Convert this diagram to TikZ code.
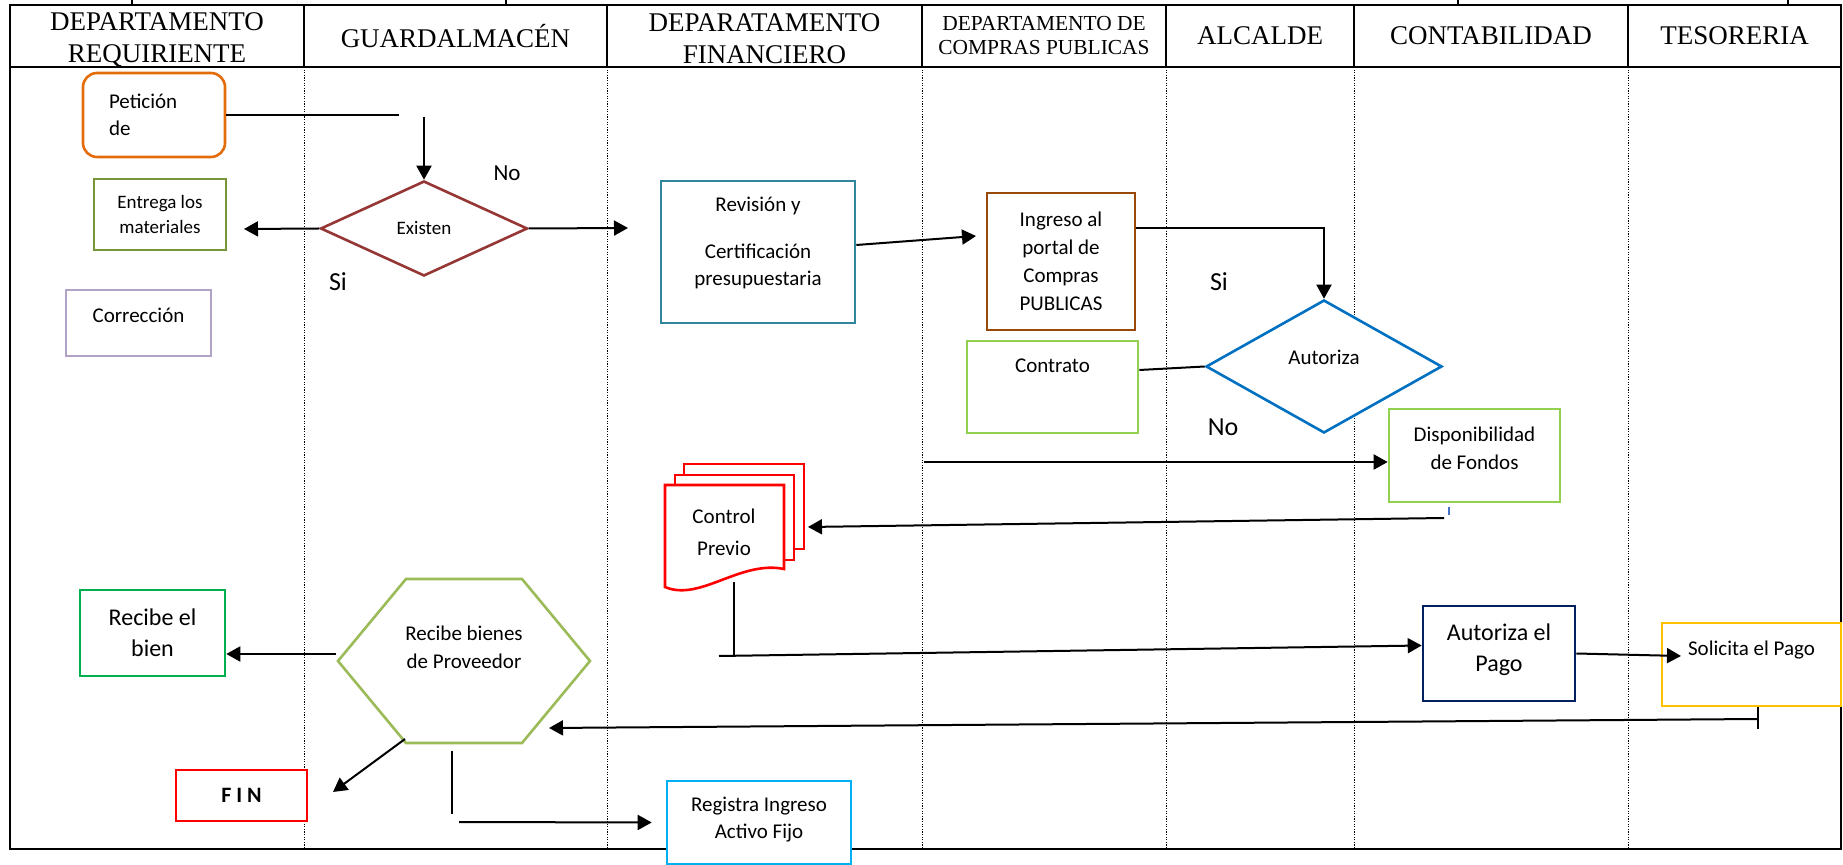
\documentclass[tikz,border=0pt]{standalone}
\usepackage{fontspec}
\setmainfont{Carlito}
\newfontfamily\headfont{Liberation Serif}
\usetikzlibrary{positioning, arrows.meta, shapes.geometric}

\definecolor{petorange}{HTML}{E46C0A}
\definecolor{exred}{HTML}{953735}
\definecolor{olive}{HTML}{77933C}
\definecolor{lilac}{HTML}{B3A2C7}
\definecolor{teal}{HTML}{31859C}
\definecolor{brown}{HTML}{984807}
\definecolor{lime}{HTML}{92D050}
\definecolor{azul}{HTML}{0070C0}
\definecolor{navy}{HTML}{002060}
\definecolor{amber}{HTML}{FFC000}
\definecolor{leaf}{HTML}{9BBB59}
\definecolor{grass}{HTML}{00B050}
\definecolor{pure}{HTML}{FF0000}
\definecolor{sky}{HTML}{00B0F0}
\definecolor{tick}{HTML}{4472C4}

\begin{document}
\begin{tikzpicture}[
        x=0.5pt, y=-0.5pt,
        lane/.style={line width=1.2pt},
        lanesep/.style={line width=0.5pt, dash pattern=on 0.6pt off 0.7pt},
        head/.style={font=\headfont\fontsize{13.5}{16}\selectfont, align=center, inner sep=0pt},
        box/.style={rectangle, draw=#1, line width=1.3pt, fill=white, align=center, inner sep=0pt, font=\fontsize{10.5}{14}\selectfont},
        dec/.style={diamond, draw=#1, line width=1.3pt, fill=white, inner sep=0pt, aspect=2, font=\fontsize{10.5}{14}\selectfont},
        lbl/.style={inner sep=0pt, font=\fontsize{13}{15}\selectfont},
        lin/.style={line width=1pt},
        arr/.style={-{Triangle[length=7pt, width=7.5pt]}, line width=1pt},
    ]
        \useasboundingbox (0,0) rectangle (1843,865);

        % Lanes
        \draw[lane] (10,5) rectangle (1841,849);
        \draw[lane] (10,67) -- (1841,67);
        \foreach \x in {304,607,922,1166,1354,1628} {
            \draw[lane] (\x,5) -- (\x,67);
            \draw[lanesep] (\x,67) -- (\x,849);
        }
        \foreach \x in {132,506,1458,1788}
            \draw[lane] (\x,0) -- (\x,5);

        \node[head] (hreq) at (157,39.5) {DEPARTAMENTO\\REQUIRIENTE};
        \node[head] (hguard) at (455.5,36) {GUARDALMAC\'EN};
        \node[head] (hfin) at (764.5,38.5) {DEPARATAMENTO\\FINANCIERO};
        \node[head, font=\headfont\fontsize{10.7}{12}\selectfont] (hcomp) at (1044,36) {DEPARTAMENTO DE\\COMPRAS PUBLICAS};
        \node[head] (halc) at (1260,36) {ALCALDE};
        \node[head] (hcont) at (1491,36) {CONTABILIDAD};
        \node[head] (htes) at (1734.5,36) {TESORERIA};

        % Steps
        \node[box=petorange, rounded corners=7pt, align=left, text width=45pt, inner xsep=13pt, minimum height=42pt, font=\fontsize{10.5}{13.5}\selectfont] (peticion) at (154,115) {Petici\'on\\de};
        \node[box=olive, minimum width=66pt, minimum height=35.5pt, font=\fontsize{9.5}{12.5}\selectfont] (entrega) at (160,214.5) {Entrega los\\materiales};
        \node[box=lilac, minimum width=72.5pt, minimum height=33pt, text depth=8pt] (correccion) at (138.5,323) {Correcci\'on};
        \node[dec=exred, minimum width=103.5pt, minimum height=47.5pt, font=\fontsize{9.5}{12}\selectfont] (existen) at (424,228.5) {Existen};
        \node[box=teal, minimum width=97pt, minimum height=71pt, text depth=11pt, font=\fontsize{10.5}{13.5}\selectfont] (revision) at (758,252) {Revisi\'on y\\[10pt]Certificaci\'on\\presupuestaria};
        \node[box=brown, minimum width=74pt, minimum height=68.5pt] (ingreso) at (1061,261.5) {Ingreso al\\portal de\\Compras\\PUBLICAS};
        \node[dec=azul, minimum width=118pt, minimum height=66.5pt, text depth=9pt] (autoriza) at (1324,366.5) {Autoriza};
        \node[box=lime, minimum width=85.5pt, minimum height=46pt, text depth=21pt] (contrato) at (1052.5,387) {Contrato};
        \node[box=lime, minimum width=85.5pt, minimum height=46.5pt, text depth=7.5pt] (fondos) at (1474.5,455.5) {Disponibilidad\\de Fondos};
        \node[box=navy, minimum width=76pt, minimum height=47.5pt, text depth=6pt, font=\fontsize{12}{15.5}\selectfont] (pago) at (1499,653.5) {Autoriza el\\Pago};
        \node[box=amber, minimum width=89.5pt, minimum height=41.5pt, text depth=16.5pt] (solicita) at (1751.5,664.5) {Solicita el Pago};
        \node[box=grass, minimum width=72.5pt, minimum height=43pt, font=\fontsize{12}{15.5}\selectfont] (recibe) at (152.5,633) {Recibe el\\bien};
        \node[box=pure, minimum width=65.5pt, minimum height=25.5pt, font=\bfseries\fontsize{11}{13}\selectfont] (fin) at (241.5,795.5) {F I N};
        \node[box=sky, minimum width=92pt, minimum height=41.5pt, text depth=5pt, font=\fontsize{10.5}{13.5}\selectfont] (registra) at (759,822.5) {Registra Ingreso\\Activo Fijo};

        % Control previo (documents)
        \draw[pure, line width=1.3pt, fill=white] (684,464) rectangle (804,549);
        \draw[pure, line width=1.3pt, fill=white] (675,475) rectangle (794,560);
        \draw[pure, line width=1.3pt, fill=white] (665,485) -- (784,485) -- (784,569) .. controls (740,560) and (700,602) .. (665,587) -- cycle;
        \node[align=center, inner sep=0pt, font=\fontsize{10.5}{16}\selectfont] (control) at (724,532) {Control\\Previo};

        % Recibe bienes (hexagon)
        \draw[leaf, line width=1.3pt, fill=white] (338,661) -- (406,579) -- (522,579) -- (590,661) -- (522,743) -- (406,743) -- cycle;
        \node[align=center, inner sep=0pt, text depth=14pt, font=\fontsize{10.5}{14}\selectfont] (bienes) at (464,661) {Recibe bienes\\de Proveedor};

        % Labels
        \node[lbl, font=\fontsize{11.5}{14}\selectfont] (no1) at (507,173) {No};
        \node[lbl] (si1) at (338,282) {Si};
        \node[lbl] (si2) at (1219,282) {Si};
        \node[lbl] (no2) at (1223,427) {No};

        % Free ends
        \coordinate (pet1) at (399,115);
        \coordinate (pet2) at (424,117);
        \coordinate (ex1) at (244,229);
        \coordinate (ex2) at (628,228);
        \coordinate (rev1) at (976,236);
        \coordinate (fon1) at (924,462);
        \coordinate (fon2) at (1444,518);
        \coordinate (cp1) at (808,527);
        \coordinate (cp2) at (734,582);
        \coordinate (cp3) at (734,655);
        \coordinate (cp4) at (719,656);
        \coordinate (pag1) at (1681,656);
        \coordinate (sol1) at (1758,729);
        \coordinate (sol2) at (1758,719);
        \coordinate (hx1) at (549,728);
        \coordinate (hx2) at (336,654);
        \coordinate (hx3) at (405,739);
        \coordinate (fin1) at (333,792);
        \coordinate (hx4) at (452,751);
        \coordinate (hx5) at (452,814);
        \coordinate (reg1) at (459,822);

        % Flow
        \draw[lin] (peticion.east) -- (pet1);
        \draw[arr] (pet2) -- (existen.north);
        \draw[arr] (existen.west) -- (ex1);
        \draw[arr] (existen.east) -- (ex2);
        \draw[arr] ([yshift=3.5pt]revision.east) -- (rev1);
        \draw[arr] ([yshift=16.5pt]ingreso.east) -| (autoriza.north);
        \draw[lin] ([yshift=8.5pt]contrato.east) -- (autoriza.west);
        \draw[arr] (fon1) -- ([yshift=-3.25pt]fondos.west);
        \draw[arr] (fon2) -- (cp1);
        \draw[tick, line width=0.8pt] (1449,507) -- (1449,515);
        \draw[lin] (cp2) -- (cp3);
        \draw[arr] (cp4) -- ([yshift=4pt]pago.west);
        \draw[arr] (pago.east) -- (pag1);
        \draw[lin] (sol1 |- solicita.south) -- (sol1);
        \draw[arr] (sol2) -- (hx1);
        \draw[arr] (hx2) -- ([yshift=-10.5pt]recibe.east);
        \draw[arr] (hx3) -- (fin1);
        \draw[lin] (hx4) -- (hx5);
        \draw[arr] (reg1) -- ([xshift=-7pt]registra.west);
    \end{tikzpicture}
\end{document}
